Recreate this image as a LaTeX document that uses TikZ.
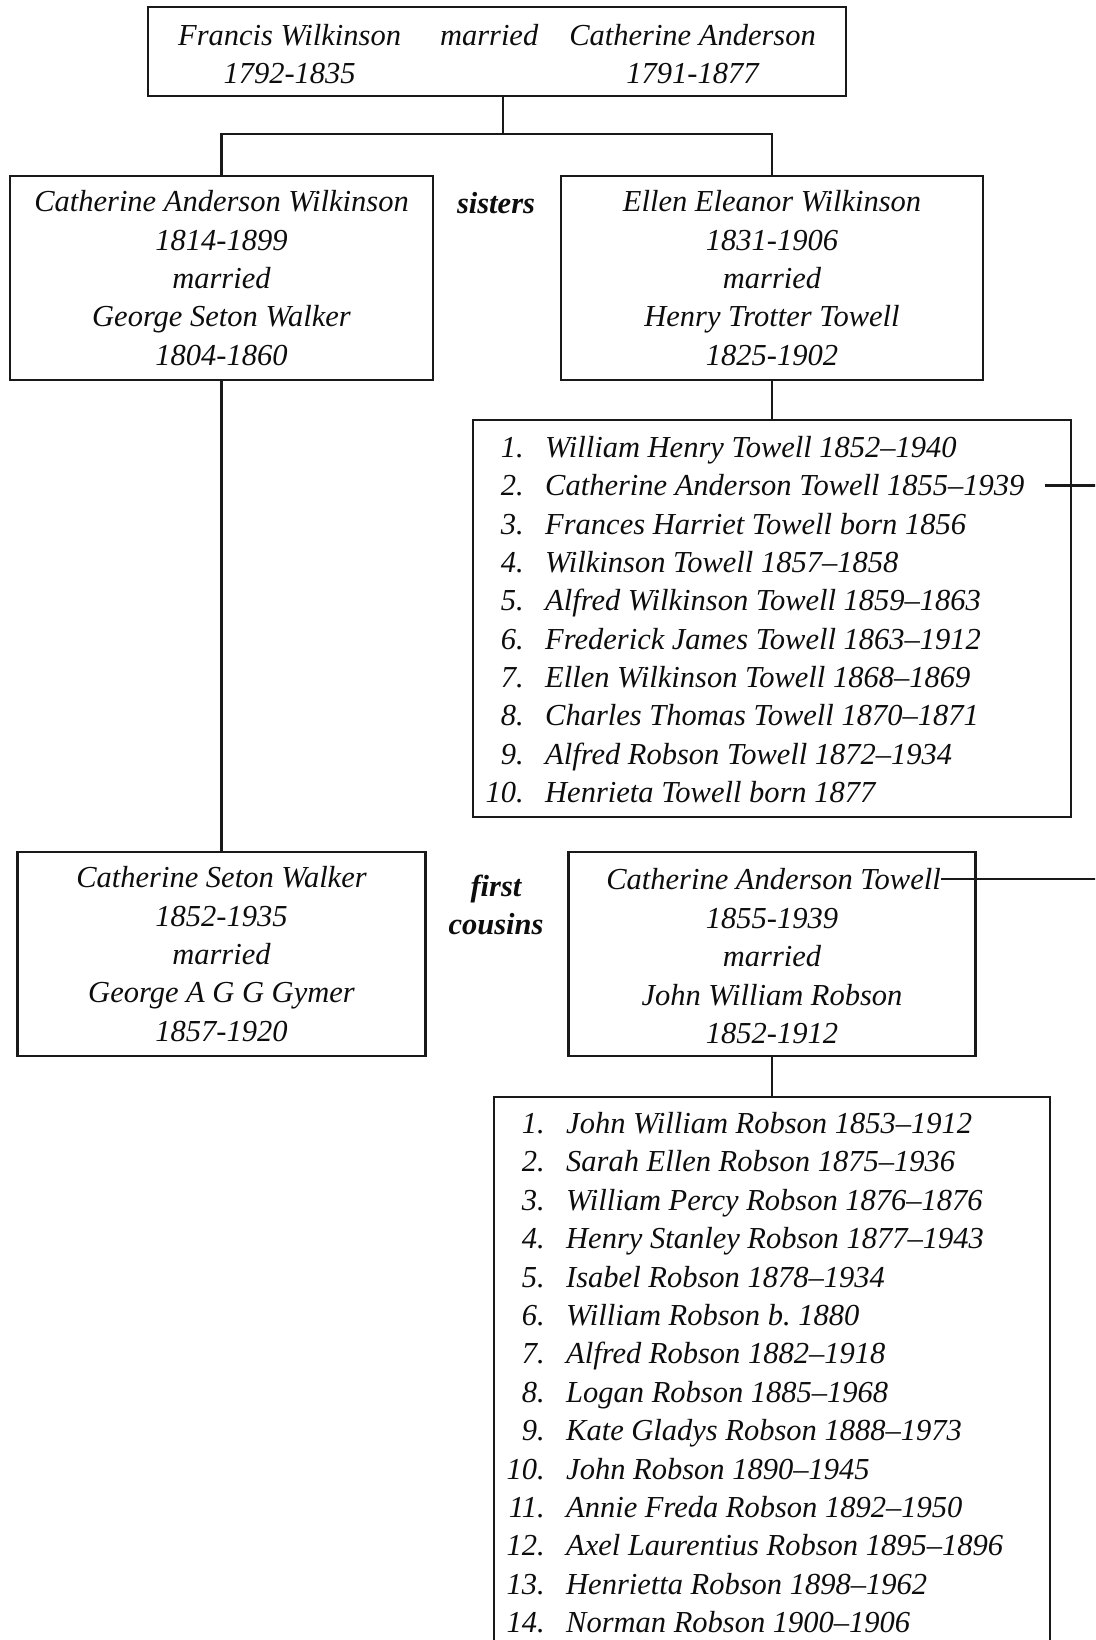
\documentclass[tikz,border=0pt]{standalone}
\usepackage{fontspec}
\setmainfont{Liberation Serif}
\usetikzlibrary{positioning}

\begin{document}
\frenchspacing
\begin{tikzpicture}[x=1pt,y=-1pt]
		\tikzstyle{txt} = [inner sep=0pt, text=black!95, font=\itshape\fontsize{30.5}{38.4}\selectfont]
		\tikzstyle{person} = [txt, rectangle, draw=black!90, line width=2.4pt, align=center]
		\tikzstyle{names} = [txt, align=center]
		\tikzstyle{rel} = [txt, align=center, font=\bfseries\itshape\fontsize{30.5}{38.4}\selectfont]
		\tikzstyle{num} = [txt, anchor=base east]
		\tikzstyle{entry} = [txt, anchor=base west]
		\tikzstyle{link} = [draw=black!90, line width=2.2pt]

		\useasboundingbox (0,0) rectangle (1095,1640);
		\clip (0,0) rectangle (1095,1640);

		% parents
		\node [person, minimum width=698pt, minimum height=89pt] (parents) at (497,51.5) {};
		\node [names] (parentsnames) at (497,57) {\begin{tabular}{c@{\hspace{39pt}}c@{\hspace{31pt}}c}
			Francis Wilkinson & married & Catherine Anderson\\
			1792-1835 & & 1791-1877
		\end{tabular}};

		% the two sisters
		\node [person, minimum width=423pt, minimum height=204pt] (wilkinson) at (221.5,278) {Catherine Anderson Wilkinson\\1814-1899\\married\\George Seton Walker\\1804-1860};
		\node [person, minimum width=422pt, minimum height=204pt] (towell) at (772,278) {Ellen Eleanor Wilkinson\\1831-1906\\married\\Henry Trotter Towell\\1825-1902};
		\node [rel] (sisters) at (496,203) {sisters};

		\coordinate (fork) at (503,134);
		\path [link] (fork |- parents.south) -- (fork);
		\path [link] (wilkinson.north) |- (fork) -| (towell.north);

		% Towell children
		\node [person, minimum width=598pt, minimum height=397pt] (towellkids) at (772,618.5) {};
		\path [link] (towell.south) -- (towellkids.north);
		\foreach \kid [count=\i] in {William Henry Towell 1852--1940, Catherine Anderson Towell 1855--1939,
			Frances Harriet Towell born 1856, Wilkinson Towell 1857--1858, Alfred Wilkinson Towell 1859--1863,
			Frederick James Towell 1863--1912, Ellen Wilkinson Towell 1868--1869, Charles Thomas Towell 1870--1871,
			Alfred Robson Towell 1872--1934, Henrieta Towell born 1877}
		{
			\node [num] at (524,457.5+38.35*\i-38.35) {\i.};
			\node [entry] (tw\i) at (545,457.5+38.35*\i-38.35) {\kid};
		}

		\coordinate (offpage) at (1110,0);
		\path [link] ([xshift=20pt]tw2.east) -- (tw2.east -| offpage);

		% the first cousins
		\node [person, minimum width=408pt, minimum height=204pt] (walker) at (221.5,954) {Catherine Seton Walker\\1852-1935\\married\\George A G G Gymer\\1857-1920};
		\path [link] (wilkinson.south) -- (walker.north);

		\node [person, minimum width=407pt, minimum height=204pt] (towellrobson) at (772,954) {};
		\node [names] (catherine) at (773.5,879) {Catherine Anderson Towell};
		\node [names] (robsonwed) at (772,976) {1855-1939\\married\\John William Robson\\1852-1912};
		\path [link] (catherine.east) -- (catherine.east -| offpage);
		\node [rel] (cousins) at (496,905) {first\\cousins};

		% Robson children
		\node [person, minimum width=556pt, minimum height=600pt] (robsonkids) at (772,1397) {};
		\path [link] (towellrobson.south) -- (robsonkids.north);
		\foreach \kid [count=\i] in {John William Robson 1853--1912, Sarah Ellen Robson 1875--1936,
			William Percy Robson 1876--1876, Henry Stanley Robson 1877--1943, Isabel Robson 1878--1934,
			William Robson b. 1880, Alfred Robson 1882--1918, Logan Robson 1885--1968,
			Kate Gladys Robson 1888--1973, John Robson 1890--1945, Annie Freda Robson 1892--1950,
			Axel Laurentius Robson 1895--1896, Henrietta Robson 1898--1962, Norman Robson 1900--1906}
		{
			\node [num] at (545,1133.5+38.4*\i-38.4) {\i.};
			\node [entry] (rb\i) at (566,1133.5+38.4*\i-38.4) {\kid};
		}
	\end{tikzpicture}
\end{document}
